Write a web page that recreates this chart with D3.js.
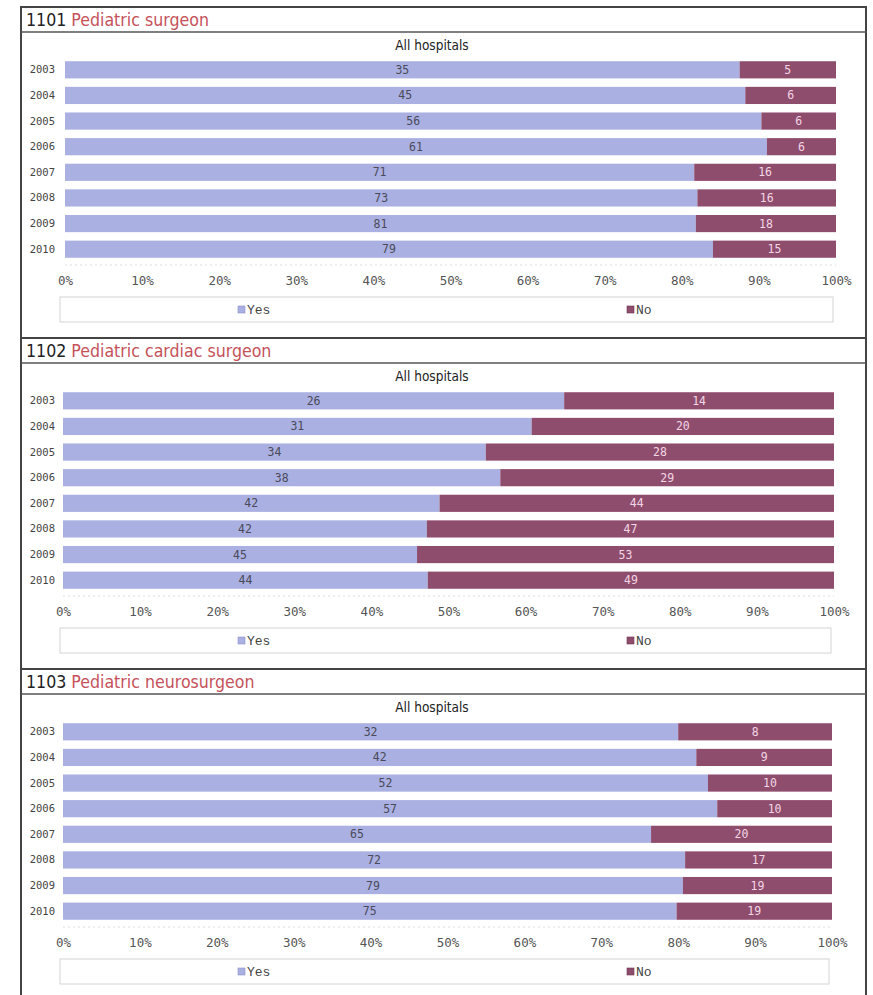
<!DOCTYPE html>
<html><head><meta charset="utf-8">
<script src="https://cdn.jsdelivr.net/npm/d3@7"></script>
<style>
body{margin:0;background:#fff;}
svg{display:block;}
</style></head>
<body>
<script>
const years = ["2003","2004","2005","2006","2007","2008","2009","2010"];
const codes = ["1101","1102","1103"];
const titles = ["Pediatric surgeon","Pediatric cardiac surgeon","Pediatric neurosurgeon"];
const subtitle = "All hospitals";
const yes1 = [35,45,56,61,71,73,81,79];
const no1  = [5,6,6,6,16,16,18,15];
const yes2 = [26,31,34,38,42,42,45,44];
const no2  = [14,20,28,29,44,47,53,49];
const yes3 = [32,42,52,57,65,72,79,75];
const no3  = [8,9,10,10,20,17,19,19];
const tickValues = [0,0.1,0.2,0.3,0.4,0.5,0.6,0.7,0.8,0.9,1.0];
const seriesNames = ["Yes","No"];

const panels = [
  {code:codes[0], title:titles[0], yes:yes1, no:no1, top:7,   x0:65, x1:836},
  {code:codes[1], title:titles[1], yes:yes2, no:no2, top:338, x0:63, x1:834},
  {code:codes[2], title:titles[2], yes:yes3, no:no3, top:669, x0:63, x1:832}
];

const W = 873, H = 995;
const colYes = "#aab0e1", colNo = "#8f4d6e";
const mono = "'DejaVu Sans Mono', 'Liberation Mono', monospace";
const legFont = "'Liberation Mono', 'Courier New', monospace";
const svg = d3.select("body").append("svg").attr("width", W).attr("height", H);

const frameL = 21, frameR = 866;

panels.forEach((p, pi) => {
  const g = svg.append("g").attr("transform", `translate(0,${p.top})`);
  const pH = (pi < 2 ? panels[pi+1].top : H + 2) - p.top;
  // frame
  g.append("rect").attr("x", frameL).attr("y", 0).attr("width", frameR - frameL).attr("height", pH)
    .attr("fill", "#fff").attr("stroke", "#444").attr("stroke-width", 2);
  g.append("line").attr("x1", frameL).attr("x2", frameR).attr("y1", 25).attr("y2", 25)
    .attr("stroke", "#555").attr("stroke-width", 1.5);
  // title
  const t = g.append("text").attr("x", 26).attr("y", 19)
    .attr("font-family", "'DejaVu Sans Condensed', 'Liberation Sans Narrow', 'Liberation Sans', sans-serif")
    .attr("font-size", 17.6);
  t.append("tspan").attr("fill", "#222").text(p.code + " ");
  t.append("tspan").attr("fill", "#c5525a").text(p.title);
  g.append("text").attr("x", 432).attr("y", 43).attr("text-anchor", "middle")
    .attr("font-family", "'DejaVu Sans Condensed', 'Liberation Sans Narrow', sans-serif")
    .attr("font-size", 13.5).attr("fill", "#222").text(subtitle);

  const x = d3.scaleLinear().domain([0,1]).range([p.x0, p.x1]);
  const y = d3.scaleBand().domain(years).range([50, 255]).paddingInner(0.33).paddingOuter(0.165);

  const rows = years.map((yr, i) => ({yr, yes:p.yes[i], no:p.no[i], tot:p.yes[i]+p.no[i]}));

  const r = g.selectAll(".row").data(rows).enter().append("g");
  r.append("rect").attr("x", x(0)).attr("y", d => y(d.yr))
    .attr("width", d => x(d.yes/d.tot) - x(0)).attr("height", y.bandwidth())
    .attr("fill", colYes);
  r.append("rect").attr("x", d => x(d.yes/d.tot)).attr("y", d => y(d.yr))
    .attr("width", d => x(1) - x(d.yes/d.tot)).attr("height", y.bandwidth())
    .attr("fill", colNo);
  r.append("text").attr("x", d => (x(0) + x(d.yes/d.tot))/2).attr("y", d => y(d.yr) + y.bandwidth()/2 + 4)
    .attr("text-anchor", "middle").attr("font-family", mono).attr("font-size", 11.5).attr("fill", "#4a4a5a")
    .text(d => d.yes);
  r.append("text").attr("x", d => (x(d.yes/d.tot) + x(1))/2).attr("y", d => y(d.yr) + y.bandwidth()/2 + 4)
    .attr("text-anchor", "middle").attr("font-family", mono).attr("font-size", 11.5).attr("fill", "#f3d6e4")
    .text(d => d.no);
  r.append("text").attr("x", 55).attr("y", d => y(d.yr) + y.bandwidth()/2 + 3.5)
    .attr("text-anchor", "end").attr("font-family", mono).attr("font-size", 10.5).attr("fill", "#444")
    .text(d => d.yr);

  // faint plot bottom line
  g.append("line").attr("x1", x(0)).attr("x2", x(1)).attr("y1", 258).attr("y2", 258)
    .attr("stroke", "#ddd").attr("stroke-width", 1).attr("stroke-dasharray", "2,3");

  const ax = g.append("g").attr("transform", "translate(0,269)")
    .call(d3.axisBottom(x).tickValues(tickValues).tickFormat(d3.format(".0%")).tickSize(0).tickPadding(0));
  ax.select(".domain").remove();
  ax.selectAll("text").attr("font-family", mono).attr("font-size", 12.5).attr("fill", "#555");

  // legend
  const lg = g.append("g").attr("transform", "translate(0,290)");
  lg.append("rect").attr("x", 60).attr("y", 0).attr("width", p.x1 - 63).attr("height", 25)
    .attr("fill", "none").attr("stroke", "#d4d4d4").attr("stroke-width", 1);
  const lx = [238, 627];
  seriesNames.forEach((s, i) => {
    lg.append("rect").attr("x", lx[i]).attr("y", 9).attr("width", 7).attr("height", 7)
      .attr("fill", i === 0 ? colYes : colNo).attr("stroke", i === 0 ? "#8a8fc8" : "#6e3450").attr("stroke-width", 0.6);
    lg.append("text").attr("x", lx[i] + 9).attr("y", 17)
      .attr("font-family", legFont).attr("font-size", 13).attr("fill", "#444").text(s);
  });
});
</script>
</body></html>
